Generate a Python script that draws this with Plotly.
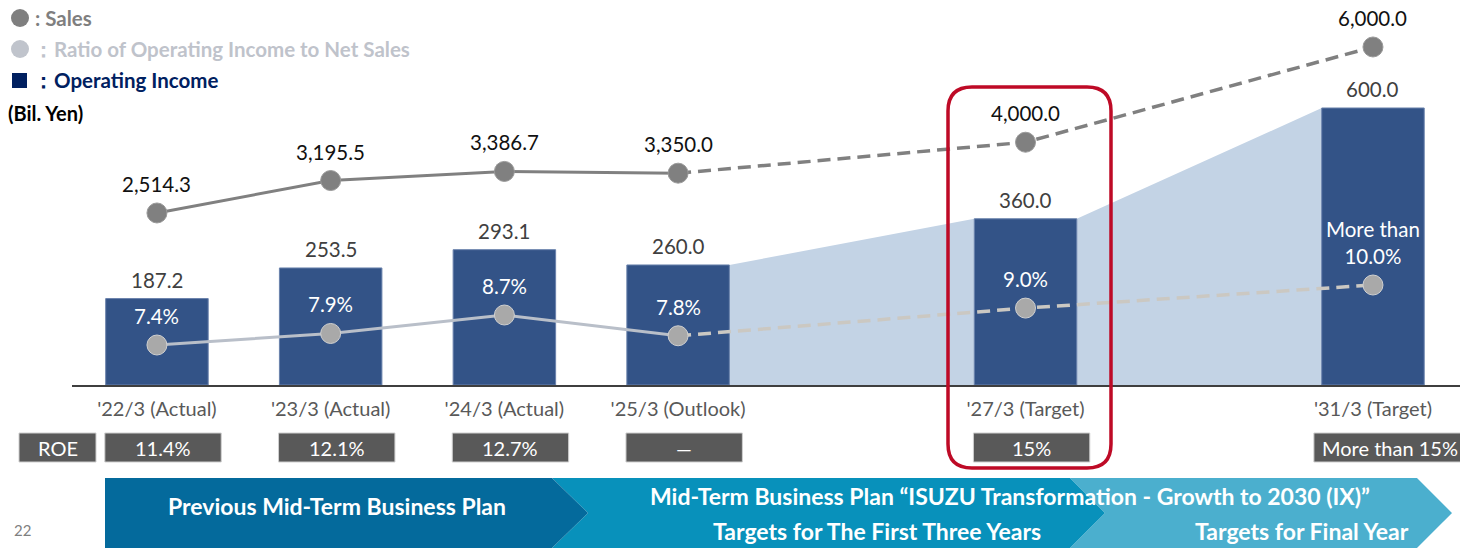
import plotly.graph_objects as go

# ---- data ----
categories = ["'22/3 (Actual)", "'23/3 (Actual)", "'24/3 (Actual)", "'25/3 (Outlook)",
              "'27/3 (Target)", "'31/3 (Target)"]
slots = [0, 1, 2, 3, 5, 7]   # horizontal slot of each fiscal year on the chart
operating_income = [187.2, 253.5, 293.1, 260.0, 360.0, 600.0]
sales = [2514.3, 3195.5, 3386.7, 3350.0, 4000.0, 6000.0]
ratio = [7.4, 7.9, 8.7, 7.8, 9.0, 10.0]
ratio_labels = ["7.4%", "7.9%", "8.7%", "7.8%", "9.0%", "More than<br>10.0%"]
roe = ["11.4%", "12.1%", "12.7%", "—", "15%", "More than 15%"]

W, H = 1481, 549
ML, MR, MT, MB = 72, 21, 0, 164
PW, PH = W - ML - MR, H - MT - MB
BAR_W = 0.59
FONT = "Lato"
Y_RANGE = [0, 833.9]


def px(x):   # pixel -> paper x
    return (x - ML) / PW


def py(y):   # pixel -> paper y
    return (H - MB - y) / PH


BAR = "#335387"
AREA = "#C3D3E5"
SALES_C = "#808080"
RATIO_LINE = "#B9BFC9"
RATIO_DASH = "#CBC8C2"
RATIO_MK = "#A9A9A9"

fig = go.Figure()

# light blue growth area behind the target bars (main y axis, drawn first)
ax = [slots[3] + BAR_W / 2, slots[4] - BAR_W / 2, slots[4] + BAR_W / 2, slots[5] - BAR_W / 2]
ay = [operating_income[3], operating_income[4], operating_income[4], operating_income[5]]
fig.add_trace(go.Scatter(x=ax, y=ay, fill="tozeroy", fillcolor=AREA, mode="lines",
                         line=dict(width=0, color=AREA), hoverinfo="skip", showlegend=False))

# bars on an overlay copy of the same scale so they sit above the area
fig.add_trace(go.Bar(x=slots, y=operating_income, width=BAR_W, marker_color=BAR, yaxis="y2",
                     marker_line=dict(color="#6A82AC", width=1), showlegend=False))

# sales line (y3)
fig.add_trace(go.Scatter(x=slots[:4], y=sales[:4], yaxis="y3", mode="lines",
                         line=dict(color=SALES_C, width=3), showlegend=False))
fig.add_trace(go.Scatter(x=slots[3:], y=sales[3:], yaxis="y3", mode="lines",
                         line=dict(color=SALES_C, width=3.5, dash="13px,7px"), showlegend=False))
fig.add_trace(go.Scatter(x=slots, y=sales, yaxis="y3", mode="markers",
                         marker=dict(color=SALES_C, size=20, line=dict(color="#9A9A9A", width=1)),
                         showlegend=False))

# ratio line (y4)
fig.add_trace(go.Scatter(x=slots[:4], y=ratio[:4], yaxis="y4", mode="lines",
                         line=dict(color=RATIO_LINE, width=3), showlegend=False))
fig.add_trace(go.Scatter(x=slots[3:], y=ratio[3:], yaxis="y4", mode="lines",
                         line=dict(color=RATIO_DASH, width=3.5, dash="13px,7px"), showlegend=False))
fig.add_trace(go.Scatter(x=slots, y=ratio, yaxis="y4", mode="markers",
                         marker=dict(color=RATIO_MK, size=20, line=dict(color="#D0D0D0", width=1)),
                         showlegend=False))

ann = []
shapes = []
for i, s in enumerate(slots):
    ann.append(dict(x=s, y=operating_income[i], xref="x", yref="y2", text=f"{operating_income[i]:.1f}",
                    showarrow=False, yanchor="bottom", yshift=5,
                    font=dict(family=FONT, size=20.5, color="#404040")))
    ann.append(dict(x=s, y=sales[i], xref="x", yref="y3", text=f"{sales[i]:,.1f}",
                    showarrow=False, yanchor="bottom", yshift=15,
                    font=dict(family=FONT, size=20.5, color="#111111")))
    ann.append(dict(x=s, y=ratio[i], xref="x", yref="y4", text=ratio_labels[i],
                    showarrow=False, yanchor="bottom", yshift=15,
                    font=dict(family=FONT, size=20.5, color="white")))


def txt(x, y, text, font, xanchor="center"):
    return dict(x=px(x), y=py(y), xref="paper", yref="paper", text=text, showarrow=False,
                xanchor=xanchor, yanchor="middle", font=font)


# ROE row
box_y0, box_y1 = py(462), py(433)
roe_font = dict(family=FONT, size=20, color="white")
shapes.append(dict(type="rect", xref="paper", yref="paper", x0=px(19), x1=px(96), y0=box_y0, y1=box_y1,
                   fillcolor="#595959", line=dict(color="#CFCFCF", width=1)))
ann.append(txt(57.5, 447.5, "ROE", roe_font))
for i, s in enumerate(slots):
    left, right = s - 0.3, s + 0.37
    if i == len(slots) - 1:
        left, right = s - 0.34, s + 0.535
    shapes.append(dict(type="rect", xref="x", yref="paper", x0=left, x1=right, y0=box_y0, y1=box_y1,
                       fillcolor="#595959", line=dict(color="#CFCFCF", width=1)))
    ann.append(dict(x=(left + right) / 2, y=py(447.5), xref="x", yref="paper", text=roe[i],
                    showarrow=False, xanchor="center", yanchor="middle", font=roe_font))


def poly(pts):
    return "M " + " L ".join(f"{px(a):.5f},{py(b):.5f}" for a, b in pts) + " Z"


# chevrons at the bottom
chev = [
    ([(1070, 478), (1417, 478), (1452, 513), (1417, 548), (1070, 548), (1105, 513)], "#4BAFCE"),
    ([(552, 478), (1070, 478), (1105, 513), (1070, 548), (552, 548), (588, 513)], "#0891BB"),
    ([(105, 478), (552, 478), (588, 513), (552, 548), (105, 548)], "#046A9C"),
]
for pts, col in chev:
    shapes.append(dict(type="path", xref="paper", yref="paper", path=poly(pts),
                       fillcolor=col, line=dict(width=0)))

bold = dict(family=FONT, size=23, color="white")
ann += [
    txt(337, 506, "<b>Previous Mid-Term Business Plan</b>", bold),
    txt(1010, 496, "<b>Mid-Term Business Plan “ISUZU Transformation - Growth to 2030 (IX)”</b>", bold),
    txt(877, 531, "<b>Targets for The First Three Years</b>", bold),
    txt(1302, 531, "<b>Targets for Final Year</b>", bold),
    txt(12, 530, "22", dict(family=FONT, size=15, color="#7F7F7F"), xanchor="left"),
]

# red highlight box (rounded)
x0, x1, y0, y1, r = 948, 1111, 87, 468, 24
red_path = (f"M {px(x0 + r)},{py(y0)} L {px(x1 - r)},{py(y0)} Q {px(x1)},{py(y0)} {px(x1)},{py(y0 + r)} "
            f"L {px(x1)},{py(y1 - r)} Q {px(x1)},{py(y1)} {px(x1 - r)},{py(y1)} "
            f"L {px(x0 + r)},{py(y1)} Q {px(x0)},{py(y1)} {px(x0)},{py(y1 - r)} "
            f"L {px(x0)},{py(y0 + r)} Q {px(x0)},{py(y0)} {px(x0 + r)},{py(y0)} Z")
shapes.append(dict(type="path", xref="paper", yref="paper", path=red_path,
                   line=dict(color="#BE0A26", width=3.5), fillcolor="rgba(0,0,0,0)"))

# legend
shapes += [
    dict(type="circle", xref="paper", yref="paper", x0=px(11), x1=px(29), y0=py(27), y1=py(9),
         fillcolor="#7F7F7F", line=dict(width=0)),
    dict(type="circle", xref="paper", yref="paper", x0=px(11), x1=px(29), y0=py(58), y1=py(40),
         fillcolor="#C0C4CC", line=dict(width=0)),
    dict(type="rect", xref="paper", yref="paper", x0=px(12), x1=px(27), y0=py(88), y1=py(73),
         fillcolor="#002060", line=dict(width=0)),
]
ann += [
    txt(33, 18, "<b>: Sales</b>", dict(family=FONT, size=20.5, color="#7F7F7F"), xanchor="left"),
    txt(31, 49, "<b>：Ratio of Operating Income to Net Sales</b>",
        dict(family=FONT, size=20.5, color="#BFC3CB"), xanchor="left"),
    txt(31, 80, "<b>：Operating Income</b>", dict(family=FONT, size=20.5, color="#002060"), xanchor="left"),
    txt(6, 113, "<b>(Bil. Yen)</b>", dict(family=FONT, size=20, color="#000000"), xanchor="left"),
]

fig.update_layout(
    width=W, height=H, margin=dict(l=ML, r=MR, t=MT, b=MB),
    plot_bgcolor="white", paper_bgcolor="white",
    xaxis=dict(range=[-0.489, 7.501], tickvals=slots, ticktext=categories, showgrid=False, zeroline=False,
               showline=True, linecolor="#3F3F3F", linewidth=2, ticks="", ticklabelstandoff=5,
               tickfont=dict(family=FONT, size=20, color="#595959")),
    yaxis=dict(range=Y_RANGE, visible=False),
    yaxis2=dict(range=Y_RANGE, overlaying="y", visible=False),
    yaxis3=dict(range=[-1098.3, 6986.6], overlaying="y", visible=False),
    yaxis4=dict(range=[5.667, 22.35], overlaying="y", visible=False),
    shapes=shapes, annotations=ann, showlegend=False,
)

fig.write_html("out.html", config={"displayModeBar": False},
               post_script="document.body.style.margin='0';")
